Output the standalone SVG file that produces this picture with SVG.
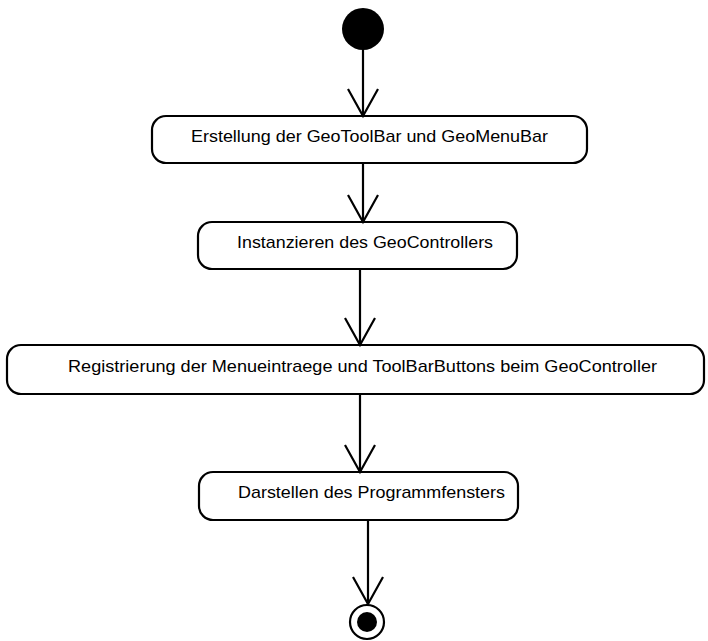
<svg xmlns="http://www.w3.org/2000/svg" width="708" height="641" viewBox="0 0 708 641">
  <style>
    .box { fill: #ffffff; stroke: #000000; stroke-width: 2.2; }
    .lbl { font-family: "Liberation Sans", Arial, sans-serif; font-size: 17px; fill: #000000; }
    .flow { fill: none; stroke: #000000; stroke-width: 2.2; }
  </style>
  <defs>
    <marker id="open-arrow" markerUnits="userSpaceOnUse" markerWidth="40" markerHeight="40" refX="0" refY="0" orient="auto" overflow="visible">
      <path d="M-27,-15 L0,0 L-27,15" fill="none" stroke="#000000" stroke-width="2.2"/>
    </marker>
  </defs>
  <rect width="708" height="641" fill="#ffffff"/>

  <g id="start">
    <circle cx="363" cy="29" r="21" fill="#000000"/>
  </g>

  <g id="erstellung">
    <rect class="box" x="152" y="116" width="435" height="47" rx="14" ry="14"/>
    <text class="lbl" x="191" y="142" textLength="357" lengthAdjust="spacingAndGlyphs">Erstellung der GeoToolBar und GeoMenuBar</text>
  </g>

  <g id="instanzieren">
    <rect class="box" x="198" y="222" width="319" height="47" rx="14" ry="14"/>
    <text class="lbl" x="237" y="248" textLength="256" lengthAdjust="spacingAndGlyphs">Instanzieren des GeoControllers</text>
  </g>

  <g id="registrierung">
    <rect class="box" x="7" y="345" width="697" height="49" rx="14" ry="14"/>
    <text class="lbl" x="68" y="372" textLength="589" lengthAdjust="spacingAndGlyphs">Registrierung der Menueintraege und ToolBarButtons beim GeoController</text>
  </g>

  <g id="darstellen">
    <rect class="box" x="199" y="472" width="319" height="48" rx="14" ry="14"/>
    <text class="lbl" x="238" y="498" textLength="267" lengthAdjust="spacingAndGlyphs">Darstellen des Programmfensters</text>
  </g>

  <g id="end">
    <circle cx="367" cy="622" r="17" fill="#ffffff" stroke="#000000" stroke-width="2.2"/>
    <circle cx="367" cy="622" r="10" fill="#000000"/>
  </g>

  <g id="connectors">
    <line class="flow" x1="363" y1="50" x2="363" y2="116" marker-end="url(#open-arrow)"/>
    <line class="flow" x1="363" y1="163" x2="363" y2="222" marker-end="url(#open-arrow)"/>
    <line class="flow" x1="360" y1="269" x2="360" y2="345" marker-end="url(#open-arrow)"/>
    <line class="flow" x1="360" y1="394" x2="360" y2="472" marker-end="url(#open-arrow)"/>
    <line class="flow" x1="368" y1="520" x2="368" y2="604" marker-end="url(#open-arrow)"/>
  </g>
</svg>
